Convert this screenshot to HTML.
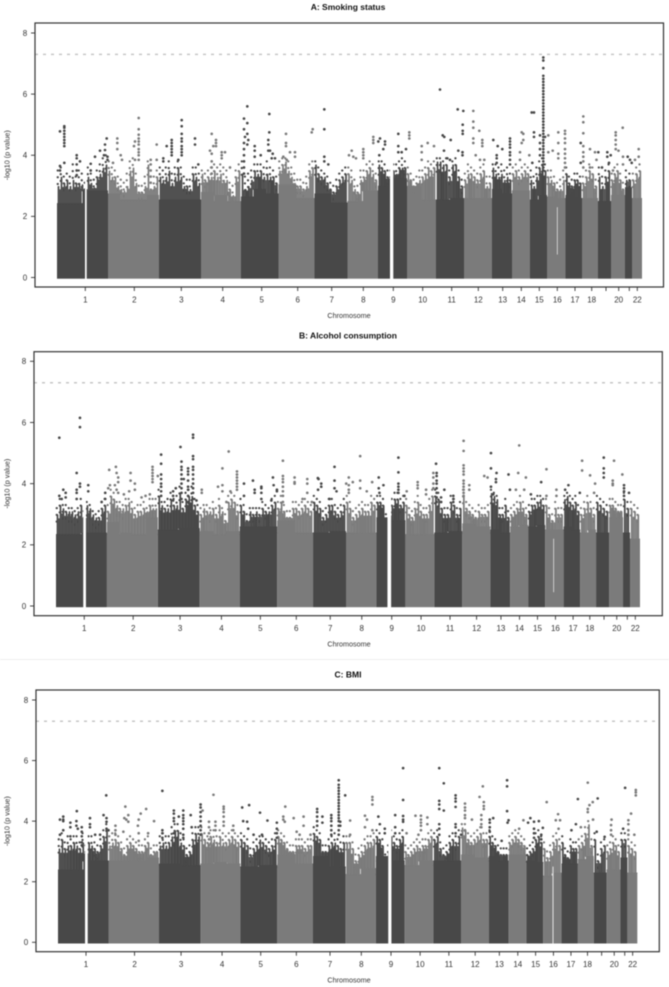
<!DOCTYPE html>
<html lang="en">
<head>
<meta charset="utf-8">
<title>Manhattan plots: smoking status, alcohol consumption, BMI</title>
<style>
html,body{margin:0;padding:0;background:#fff;}
body{width:669px;height:987px;overflow:hidden;}
svg{display:block;filter:blur(0.4px);}
text{font-family:"Liberation Sans",sans-serif;fill:#333;}
.title{font-weight:bold;font-size:8.5px;fill:#111;}
.tick{font-size:8px;}
.axis{font-size:7.2px;}
</style>
</head>
<body>
<svg id="chart" xmlns="http://www.w3.org/2000/svg" width="669" height="987" viewBox="0 0 669 987"></svg>
<script>
// Shared axis data. Genome position is in bins of roughly 4.9 Mb.
const chromosomeEnds = [51,102,144,184,221.5,257.5,290.5,321,350,379,407,435,455,473,490,508.5,525,541,554,568,575,585];
const tickPositions = [28.3,77.3,124.3,165.7,204.7,240.7,274.7,306.3,336.3,365.7,394.7,421.3,445.7,464.3,482.3,500.3,518,534.7,549,561.7,572.3,580.3];
const tickLabels = ["1","2","3","4","5","6","7","8","9","10","11","12","13","14","15","16","17","18","","20","","22"];
const yTicks = [0,2,4,6,8];
const genomeWideThreshold = 7.3;

// Panel A: Smoking status
const denseA = [[2.43,2.85],[2.75,2.55,2.55,2.7],[2.55,2.55],[2.8,2.7,2.5],[2.65,2.9,2.75],[3.05,2.6],[2.75,2.45],[2.5,2.85],[3.0,3.25],[3.0,2.55],[2.55,2.6],[2.6,2.6],[2.9,2.75],[2.85,2.85],[2.55,2.7],[2.65,2.6],[2.7,2.6],[2.6,2.6],[2.5],[2.7],[2.95],[2.6]];
const combA = [
[3.0,3.3,3.1,3.2,3.0,3.2,3.1,3.1,3.05,2.9,3.3,3.1,2.95,3.3,3.4,3.6,3.7],
[3.5,3.3,3.3,3.0,2.9,2.85,3.0,3.5,3.6,3.1,2.8,2.8,3.0,3.7,2.9,3.0,3.3],
[3.3,3.2,3.3,3.5,3.1,3.3,3.6,3.3,3.0,3.0,2.9,3.4,3.3,3.1],
[3.4,3.2,3.3,3.3,3.5,3.3,3.4,3.2,3.2,2.9,2.7,3.3,3.5],
[3.4,2.9,3.0,3.2,3.5,3.4,3.5,3.3,3.4,3.3,3.3,3.1],
[3.5,3.7,3.8,3.5,3.3,3.1,3.0,3.0,2.9,3.0,3.5,3.6],
[3.7,3.4,3.3,3.3,3.1,2.9,2.8,3.0,3.2,3.3,3.4],
[3.4,3.2,2.9,2.8,3.2,3.3,3.5,3.6,3.4,3.2],
[3.7,3.6,3.5,3.3,3.3,3.5,3.4,3.6,3.6,3.6],
[3.4,3.2,3.0,3.1,3.2,3.3,3.4,3.6,3.5,3.6],
[3.8,3.8,3.7,3.7,3.3,3.7,3.7,3.3,3.0],
[3.2,3.4,3.4,3.3,3.2,3.4,3.5,3.0,3.1],
[3.6,3.4,3.3,3.4,3.2,3.3,3.2],
[3.4,3.5,3.3,3.4,3.5,3.4],
[3.2,3.0,3.3,3.6,3.7,3.5],
[3.3,3.2,3.1,2.9,2.9,3.2],
[3.4,3.1,3.0,3.2,3.2,3.1],
[3.1,3.3,3.5,3.4,3.0],
[3.3,3.0,3.3,3.5],
[3.2,3.4,3.5,3.2,2.9],
[3.2,3.2],
[3.2,3.4,3.5]];
const scatterA = [
[3.5,3.6,3.3,3.4,3.3,3.7,3.3,3.5,3.4,3.1,3.6,3.4,3.2,3.5,3.7,3.9,4.0],
[3.8,3.6,3.5,3.3,3.2,3.1,3.4,3.8,3.9,3.4,3.0,3.0,3.3,3.8,3.1,3.3,3.5],
[3.6,3.5,3.6,3.8,3.4,3.6,3.8,3.6,3.3,3.2,3.2,3.6,3.6,3.4],
[3.5,3.4,3.5,3.6,3.7,3.6,3.7,3.6,3.5,3.1,3.0,3.5,3.7],
[3.8,3.3,3.4,3.5,3.7,3.7,3.7,3.6,3.8,3.6,3.5,3.3],
[3.8,3.9,3.9,3.8,3.6,3.4,3.2,3.2,3.1,3.3,3.7,3.8],
[3.8,3.6,3.5,3.4,3.3,3.1,3.0,3.2,3.4,3.5,3.6],
[3.6,3.5,3.2,3.0,3.5,3.5,3.7,3.8,3.7,3.4],
[3.8,3.8,3.7,3.5,3.5,3.7,3.7,3.8,3.9,3.8],
[3.6,3.4,3.2,3.3,3.5,3.5,3.6,3.8,3.7,3.8],
[3.9,3.9,3.8,3.9,3.5,3.8,3.9,3.5,3.2],
[3.4,3.7,3.6,3.5,3.4,3.6,3.7,3.3,3.3],
[3.7,3.7,3.6,3.7,3.5,3.6,3.4],
[3.6,3.7,3.5,3.6,3.7,3.6],
[3.5,3.3,3.6,3.8,3.9,3.7],
[3.5,3.5,3.3,3.1,3.2,3.5],
[3.6,3.3,3.2,3.4,3.4,3.3],
[3.3,3.5,3.7,3.6,3.2],
[3.6,3.3,3.5,3.7],
[3.4,3.6,3.7,3.4,3.1],
[3.5,3.4],
[3.4,3.6,3.7]];
const gapsA = [[28,29.7,-0.2,7],[333,336.3,-0.2,7],[500,500.6,0.8,2.3]];
// Each hit column: genome position, then the -log10(p) values at that position.
const hitsA = [
[7.3,4.3,4.4,4.5,4.6,4.7,4.8,4.9,4.95,3.75],[3,4.78,3.65,3.5],[19.7,4.0,3.9,3.7,3.5,3.35],[23,3.8],
[49.7,4.55],[48,4.35,4.17],[43,4.15],[38,3.95],[33.7,3.72,3.5],[50.5,3.95,3.85],[47,4.0],
[60.3,4.55,4.4,4.2],[63.7,4.0],[65,3.85],[56,3.75],[81.7,5.22,4.85,4.67,4.55,4.45,4.35,4.2,4.1,4.0,3.85],[78,4.45,3.85],[77,4.3],
[99.7,4.35,3.85],[93.7,3.85,3.7,3.5,3.3,3.1],
[109.7,4.3],[114.7,4.5,4.4,4.3,4.2,4.1,4.0],[106.3,3.9,3.8],[124.7,5.15,4.95,4.7,4.55,4.45,4.3,4.2,4.1,4.0],[138,4.55,4.35],[121.3,3.85],[141.3,3.7],
[154.7,4.7,4.05,3.8,3.6,3.4],[153,4.15],[156.3,4.3],[159,4.5,4.4,4.3],[164.7,4.1,4.0,3.9],[168,4.1],[173,3.6],
[190.3,5.6,5.05,4.7,4.35],[187,5.2,4.85,4.4,4.2,4.0,3.8,3.6,3.4],[188,4.6],[191.3,4.5],[197.7,4.3,4.15,3.95],[203.7,4.0],[212.3,5.35,4.75],[211.3,4.5,4.35,4.15],[213,4.15],[215.7,4.05],[218,3.9],[214.7,3.9],
[229,4.7,4.4,4.3],[238,4.1,3.95],[233,4.1],[229.7,3.85],[226.3,3.95],[254.7,4.75],[255.7,4.85],
[267.3,5.5,4.85,3.95,3.8],[271.3,3.7],
[294.7,4.15],[292,4.0],[296.3,3.95],[299,3.9],[306.3,4.2,4.1,4.0,3.9],[316.3,4.6,4.5,4.4],[321.3,4.45],[323,4.55],
[328,4.45,4.35],[322.3,4.0],[326.3,4.2],[341.3,4.7,4.3,4.1],[344.7,4.1],[349,4.2],[352.3,4.75,4.65,4.55],
[364.7,4.3,4.1,3.85],[370.7,4.4],[377,4.3],[383,6.15],[385.7,4.65],[387.3,4.6],[393.7,4.5],[387,4.15],[390.3,3.9],[393,3.85],
[400.7,5.5],[406.3,5.45],[405.7,5.0,4.8,4.7],[401.3,4.15],[405.5,4.1,4.0],
[416.3,5.45,5.1,4.9,4.55,4.4],[422.3,4.8],[425.3,4.5,4.4,4.3],[418.7,4.0],[423,3.85],[427.3,3.85],
[436.3,4.5],[440.7,4.3],[445.3,4.2],[439.7,4.0,3.9,3.75],[453,4.55,4.45,4.35,4.25,4.1,4.0,3.85,3.7],
[464.7,4.75,4.4],[466.3,4.7,4.5],[463,4.1,3.85],
[474.7,5.4],[477,5.4,4.75,4.6],[472.3,4.0],[475.3,3.75],[483,4.65,4.4,4.2,4.0],
[486.3,7.2,7.1,6.85,6.6,6.5,6.4,6.3,6.2,6.1,6.0,5.9,5.8,5.7,5.6,5.5,5.4,5.3,5.2,5.1,5.0,4.9,4.8,4.7,4.6,4.5,4.4,4.3,4.2,4.1,4.0,3.9,3.8,3.7,3.6,3.5],
[488,4.6],[491.3,4.65,4.1],[495.7,4.15],[501.3,4.75,4.4,4.05,3.9],
[508,4.8,4.7,4.55,4.4,4.2,4.05,3.9,3.75,3.6],[523.7,4.4,3.75],[526.3,5.27,5.08,4.72,4.3,4.1,3.95,3.8,3.6],
[533,4.2,3.6],[538,4.1],[541.3,4.1],[539.5,3.85],[550.3,4.1,3.95],[553.7,4.0],[552,3.75],[556,3.5],[545,3.6],
[558.7,4.75,4.65,4.5,4.35,4.2],[561.5,4.15],[565.7,4.9],[566,3.95,3.7],[570.7,3.95],[573,3.85],[574.7,3.75],[581.7,4.2,3.95],[578,3.85]
];

// Panel B: Alcohol consumption
const denseB = [[2.35,2.4],[2.75,2.4,2.35,2.9],[2.5,2.55],[2.45,2.35,2.45],[2.6,2.6,2.6],[2.8,2.4],[2.4,2.45],[2.4,2.4],[2.9,2.8],[2.35,2.35],[2.4,2.45],[2.7,2.6],[2.5,2.4],[2.6,2.65],[2.6,2.65],[2.5,2.5],[2.6,2.5],[2.4,2.5],[2.4],[2.9],[2.4],[2.2]];
const combB = [
[3.0,3.3,3.2,3.1,3.1,3.1,3.0,3.1,3.3,3.0,3.3,3.2,3.0,2.9,2.9,3.2,3.3],
[3.1,3.6,3.5,3.3,3.2,3.2,3.3,3.4,3.2,3.0,3.1,3.1,3.2,3.1,3.3,3.2,3.2],
[3.6,3.3,3.2,3.2,3.5,3.3,3.3,3.7,3.2,3.5,3.6,3.6,3.3,3.1],
[3.0,3.2,3.1,3.1,3.2,3.0,3.3,3.1,2.8,3.4,3.5,3.4,3.1],
[3.3,3.1,2.8,3.1,3.0,3.1,3.0,3.2,3.1,3.1,3.3,3.4],
[3.2,3.4,3.1,2.9,2.9,3.2,3.2,3.1,3.2,3.3,3.2,3.1],
[3.4,3.3,3.2,2.9,3.0,3.3,3.3,3.1,3.0,3.1,3.3],
[3.4,3.2,2.9,3.0,3.1,3.2,3.1,3.1,3.4,3.3],
[3.4,3.4,3.3,2.8,3.0,3.3,3.5,3.5,3.3,3.4],
[3.3,3.0,2.9,3.2,3.4,3.1,3.0,3.0,3.3,3.6],
[3.6,3.5,3.2,3.0,3.0,3.4,3.3,3.0,3.2],
[3.6,3.2,3.1,3.0,2.9,3.1,3.0,3.0,3.1],
[3.7,3.6,3.5,3.0,3.0,3.3,2.9],
[3.0,3.1,3.2,3.4,3.2,3.0],
[3.1,3.3,3.3,3.4,3.5,3.3],
[3.3,3.0,2.8,3.2,3.0,3.0],
[3.5,3.6,3.4,3.3,3.4,3.1],
[3.0,3.2,3.4,3.2,3.0],
[3.4,3.3,3.2,3.1],
[3.3,3.3,3.2,3.1,3.1],
[3.5,3.2],
[3.2,3.1,3.0]];
const scatterB = [
[3.2,3.5,3.3,3.3,3.2,3.2,3.1,3.2,3.5,3.1,3.4,3.3,3.1,3.0,3.1,3.4,3.5],
[3.3,3.8,3.7,3.4,3.4,3.3,3.5,3.5,3.4,3.2,3.3,3.3,3.4,3.2,3.5,3.5,3.5],
[3.8,3.4,3.4,3.5,3.7,3.5,3.6,3.9,3.4,3.7,3.8,3.9,3.5,3.3],
[3.2,3.3,3.3,3.2,3.4,3.2,3.5,3.2,3.0,3.6,3.7,3.6,3.3],
[3.5,3.3,3.0,3.2,3.2,3.2,3.2,3.4,3.3,3.2,3.5,3.6],
[3.4,3.6,3.3,3.1,3.1,3.4,3.4,3.3,3.4,3.5,3.4,3.3],
[3.6,3.5,3.4,3.1,3.2,3.5,3.5,3.3,3.2,3.3,3.5],
[3.6,3.4,3.1,3.2,3.3,3.4,3.3,3.3,3.6,3.5],
[3.6,3.6,3.5,3.0,3.2,3.5,3.7,3.7,3.5,3.6],
[3.5,3.2,3.1,3.4,3.6,3.3,3.2,3.2,3.5,3.8],
[3.8,3.7,3.4,3.2,3.2,3.6,3.5,3.2,3.4],
[3.8,3.4,3.3,3.2,3.1,3.3,3.2,3.2,3.3],
[3.8,3.7,3.6,3.2,3.2,3.5,3.1],
[3.2,3.3,3.4,3.6,3.4,3.2],
[3.3,3.5,3.5,3.6,3.6,3.5],
[3.5,3.2,3.0,3.4,3.2,3.2],
[3.6,3.7,3.6,3.5,3.6,3.3],
[3.2,3.4,3.6,3.4,3.2],
[3.6,3.5,3.4,3.3],
[3.5,3.5,3.4,3.3,3.3],
[3.7,3.4],
[3.4,3.3,3.2]];
const gapsB = [[27.3,30,-0.2,7],[332,335.7,-0.2,7],[498.2,498.8,0.5,2.2]];
const hitsB = [
[3.3,5.5,3.6],[24,6.15,5.85,4.0,3.9],[20.7,4.35,3.8,3.7,3.5],[7.3,3.8],[9.7,3.7,3.55],[5.7,3.5],
[32.3,3.95,3.75],[49.3,3.7,3.5],[45.7,3.4],
[53.3,4.45],[60,4.55],[60.7,4.35,3.8],[62.3,4.2,4.05,3.7],[54,3.95],[59,3.95],[52.3,3.85],[74.7,4.35,4.1],[79,4.0,3.8],[73.3,3.75],[68,3.65],[85.7,3.55],[89.7,3.6],
[96.7,4.55,4.45,4.35,4.25,4.15,4.05],[94,3.65],[102,4.25],
[105.3,4.95,4.65,4.3,4.15,4.0,3.9,3.75,3.6],[120,3.85],[117.3,3.75,3.6,3.45],[124.7,5.2],[125.7,4.72,4.55,4.45,4.3,4.15,4.0,3.85,3.7,3.5],[128,4.15],
[132.3,4.5,4.4,4.3,4.1,3.9,3.8,3.6,3.4],[137.3,5.6,5.5,4.9,4.8,4.55,4.45,4.3,4.15,4.0,3.85,3.7,3.5],[140.7,3.45],
[146,3.8,3.7],[166.7,4.5,3.95,3.75],[173,5.05],[162.3,3.9],[174.7,3.75],[181.3,4.4,4.3,4.2,4.1,4.0,3.9,3.8],[170.7,3.4],
[188.3,4.0,3.6],[197.3,4.1],[199,3.8,3.7],[205.7,3.9,3.85,3.7,3.5],[217.3,4.2],[218,3.95],[221.3,3.8,3.75],[215.7,3.45],
[227.3,4.75,4.25,4.15,4.05,3.9,3.75,3.6,3.4],[239,4.2,4.05,4.0],[251.7,4.15,4.0,3.7],[247,3.5],[256.3,3.4],
[262.3,4.18],[263,4.15],[265.7,4.0,3.9],[262.5,3.8],[279,4.55,4.1,3.85],[274,3.5],[281,3.75],
[290.7,4.0],[293.3,4.2,3.95,3.8,3.7],[297.3,4.05],[304.7,4.9,4.1,3.85],[311.3,3.75],[316.7,4.05],[323.3,4.2,3.85],[328,3.95],[324,3.7],
[343,4.85,4.37,4.0,3.9,3.8,3.7],[349,3.6],[351.3,3.75],[362.3,4.05,3.95,3.85],[370.7,3.8,3.65],
[378,4.35,4.2,4.0,3.85],[380.7,4.65],[381.3,4.35,4.25,4.1,4.0,3.85,3.7,3.55,3.4],[389,3.8],[385.7,3.55,3.4],[398,3.6,3.5,3.4],
[408.3,5.4,5.07,4.6,4.5,4.4,4.3,4.1,4.0,3.9,3.8,3.7,3.6],[414,3.95,3.8],[429,4.25],[432.3,4.2],[435.7,5.0,4.5,3.9],[441.3,4.35],[440.7,4.15,4.05],[438,3.65],
[453.3,4.3],[454.7,3.8],[460.7,3.8],[464,5.25],[463,4.35],[470.7,4.2],[469,3.8],[475.7,3.65],[486,4.05],[491.3,4.47,3.6],
[501.3,3.8,3.6],[510,3.8],[513.3,3.95],[524.7,3.7],[527,4.75,4.43],[535,4.27],[540,4.0],[539,3.7],[548.7,4.85,4.5,4.35,4.2],[559,4.75],[557.7,4.1,4.0,3.95],[567.3,4.3],[569,3.95,3.85,3.75,3.6],[574,3.7]
];

// Panel C: BMI
const denseC = [[2.4,2.7],[2.7,2.7,2.7,2.8],[2.6,2.55],[2.6,2.65,2.6],[2.5,2.55],[2.9,2.6],[2.85,2.5],[2.25,2.45],[2.85,2.7],[2.55,2.7],[2.7,2.7],[2.9,2.8],[2.85,2.7],[2.9,2.9],[2.7,2.65],[2.2,2.3],[2.6,2.6],[2.75,2.85],[2.3],[2.4],[2.8],[2.3]];
const combC = [
[3.1,3.4,3.1,3.2,3.2,3.3,3.2,3.1,3.3,3.0,3.3,3.2,3.1,3.0,3.2,3.5,3.7],
[3.2,3.3,3.4,3.3,3.1,2.9,3.2,3.3,3.2,3.1,3.0,3.0,3.2,3.3,2.9,3.0,3.0],
[3.2,3.3,3.2,3.3,3.5,3.7,3.7,3.3,3.2,2.9,3.0,3.4,3.6,3.5],
[3.6,3.4,3.3,3.5,3.4,3.3,3.5,3.3,3.3,3.4,3.5,3.4,3.3],
[3.4,3.3,3.2,2.9,3.1,3.2,3.4,3.3,3.2,3.1,3.2,3.4],
[3.5,3.4,3.3,3.1,3.0,3.0,3.2,3.2,3.2,3.1,3.2,3.2],
[3.6,3.5,3.4,3.0,3.0,3.2,3.3,3.3,3.2,3.1,3.3],
[3.3,3.3,3.1,2.7,2.9,3.0,3.2,3.3,3.3,3.4],
[3.5,3.4,3.2,2.7,3.0,3.5,3.3,3.2,3.4,3.5],
[3.0,2.9,3.0,3.1,3.2,3.1,3.2,3.2,3.4,3.5],
[3.4,3.5,3.1,2.9,3.0,3.3,3.4,3.3,3.5],
[3.8,3.7,3.4,3.3,3.4,3.5,3.6,3.4,3.4],
[3.5,3.3,3.2,3.0,2.9,2.9,2.9],
[3.3,3.4,3.5,3.4,3.3,3.2],
[2.9,3.0,3.1,3.4,3.5,3.3],
[3.1,2.8,3.0,3.3,3.4,3.2],
[3.3,2.9,2.8,3.2,3.1,3.1],
[3.2,3.3,3.6,3.9,3.2],
[3.4,2.7,3.1,3.2],
[3.0,3.1,3.3,3.2,3.0],
[3.4,3.4],
[3.2,3.1,3.0]];
const scatterC = [
[3.4,3.6,3.3,3.5,3.4,3.5,3.5,3.3,3.6,3.2,3.5,3.5,3.3,3.2,3.4,3.7,3.9],
[3.5,3.6,3.6,3.5,3.3,3.1,3.4,3.5,3.4,3.3,3.2,3.2,3.4,3.5,3.1,3.2,3.2],
[3.5,3.6,3.5,3.5,3.8,3.9,3.9,3.6,3.4,3.1,3.2,3.6,3.8,3.8],
[3.8,3.6,3.5,3.7,3.7,3.5,3.7,3.6,3.5,3.6,3.7,3.6,3.5],
[3.6,3.5,3.4,3.1,3.3,3.4,3.5,3.5,3.4,3.3,3.4,3.6],
[3.7,3.6,3.5,3.3,3.2,3.2,3.4,3.4,3.4,3.3,3.4,3.4],
[3.8,3.7,3.6,3.2,3.2,3.4,3.5,3.6,3.4,3.3,3.5],
[3.5,3.5,3.3,2.9,3.1,3.2,3.4,3.5,3.5,3.6],
[3.7,3.6,3.4,2.9,3.2,3.7,3.5,3.4,3.6,3.7],
[3.2,3.1,3.2,3.3,3.4,3.3,3.4,3.4,3.6,3.7],
[3.6,3.7,3.3,3.1,3.2,3.5,3.6,3.5,3.7],
[3.9,3.9,3.6,3.5,3.6,3.7,3.8,3.6,3.6],
[3.7,3.5,3.4,3.2,3.1,3.1,3.1],
[3.5,3.6,3.7,3.6,3.5,3.4],
[3.1,3.2,3.3,3.6,3.7,3.5],
[3.3,3.0,3.2,3.5,3.6,3.4],
[3.5,3.1,3.0,3.4,3.3,3.3],
[3.4,3.5,3.8,4.0,3.4],
[3.6,2.9,3.3,3.4],
[3.2,3.3,3.5,3.4,3.2],
[3.6,3.6],
[3.4,3.3,3.2]];
const gapsC = [[27.3,30,-0.2,7],[333.5,336.7,-0.2,7],[499.5,500.3,0,2.5]];
const hitsC = [
[19,4.33],[5.3,4.15,4.05,4.0,3.7],[2,4.05,3.55],[12.5,3.95,3.8,3.5],[18.6,4.0,3.85],[20,3.75],[24,3.8,3.65,3.5,3.3,3.2],
[32.3,4.1,3.9,3.8],[48.7,4.85],[46,4.2],[49,4.1,3.98,3.75],[51,3.7],[37.5,3.55],[42.5,3.55],
[68,4.48],[67,4.1],[69,4.05],[71,4.2,3.98],[58,3.85,3.7,3.55],[66,3.65],[83.5,4.25],[80.7,3.85],[81.5,4.05,3.6,3.35],[89,4.4],[97,4.0],[91,3.6],
[105.4,5.0,3.7,3.6,3.45],[117,4.35,4.25,4.1,4.0,3.6,3.2],[122,4.15],[126.5,4.35,4.2,4.1,4.0,3.9,3.75,3.55,3.45],[134,4.2],[135,3.8],
[144,4.55,4.45,4.3,4.15,4.0,3.85,3.7,3.55],[146,4.35],[157,4.87],[152.5,3.98,3.8,3.6,3.4,3.2],[159,3.98,3.85,3.7],[167.3,4.48,4.4,4.3,4.15,3.98,3.85],[177,3.85,3.7],
[186,4.45],[193,4.53],[204,4.28],[211.5,4.02],[187,4.0],[191,3.98],[192,3.75],[197.5,3.55],[221,3.95,3.75,3.6,3.45],[206,3.55],
[229.5,4.48],[227.5,4.15,4.05],[229,3.98],[238,4.1],[248,4.15,3.85],[241,3.65],[244,3.55],[255,3.55],
[261.7,4.4,4.3,4.15,4.0,3.85],[267,4.15,3.95],[276,4.2,4.1,4.0,3.85,3.7,3.55],
[283.5,5.35,5.2,5.1,5.0,4.9,4.8,4.7,4.6,4.5,4.4,4.3,4.2,4.1,4.0,3.85,3.7,3.55],[290,4.85],[285,3.98,3.85],
[295,4.02,3.55],[310,4.18,3.8],[312,4.05],[317.5,4.8,4.7,4.55,3.7],[323.5,4.15],[325,3.9],[330,3.75,3.6],
[340.5,4.2,3.8,3.6],[348.5,5.75,4.7,4.17,4.05,3.98],[352,3.6],[361,4.18],[366.5,4.18,4.05,3.95,3.85,3.7],[373,4.12,3.9],[364,3.55],
[385,5.75,4.67,4.55,4.4,3.9,3.75,3.55],[389.6,5.25,4.35],[401.5,4.85,4.75,4.65,4.47,3.9,3.8,3.6],[407,3.55],
[411,4.58,4.45,4.35,4.2,4.1,3.7],[429,5.15],[425.7,4.8],[430,4.63,4.5,4.4],[427.5,4.2,4.05,3.9,3.8],[418,4.05],
[439.5,4.1],[436,4.05,3.95,3.8,3.65],[448,3.35],[453.5,5.35,5.15,4.33],[455,4.03],[454,3.95],
[470,4.03],[465.7,3.75],[477,4.1],[474.7,3.95],[480.7,3.98,3.75,3.6,3.45],[485.6,4.0],[489.6,3.78],[488,3.55,3.4],[493.5,4.63],
[505,4.23],[502.7,4.03],[507,4.03],[505.5,3.75],[525,4.73],[523,3.9],[518.5,3.7],[528,3.8],
[535,5.27,4.4,4.3],[536.7,4.53],[540.3,4.05],[540,4.63],[545,4.75],[544,3.65],[552,3.48],[559,4.05],[558.5,3.87,3.7,3.55],
[572.7,5.1],[570.7,3.75],[578.7,4.25],[576,4.03,3.9,3.7,3.55],[583.5,5.03,4.95,4.85],[582,3.55]
];

const DARK = "#484848";
const GREY = "#7b7b7b";
const NS = "http://www.w3.org/2000/svg";
const svg = document.getElementById("chart");

function make(parent, tag, attrs, text) {
  const el = document.createElementNS(NS, tag);
  for (const k in attrs) el.setAttribute(k, attrs[k]);
  if (text !== undefined) el.textContent = text;
  parent.appendChild(el);
  return el;
}

function chromosomeColor(pos) {
  for (let i = 0; i < chromosomeEnds.length; i++) {
    if (pos <= chromosomeEnds[i]) return i % 2 === 0 ? DARK : GREY;
  }
  return GREY;
}

function drawPanel(key, title, titleY, box, yTop, yZero, xStart, xEnd, dense, comb, scatter, gaps, hits) {
  const xAxis = function (u) { return xStart + u * (xEnd - xStart) / 585; };
  const yAxis = function (v) { return yZero + (yTop - yZero) * v / 8; };
  const span = function (a, b) { return xAxis(b) - xAxis(a); };

  const panel = make(svg, "g", {});
  
  

  const titleEl = make(panel, "text", {x: 348, y: titleY, "text-anchor": "middle", class: "title"}, title);
  
  

  const marks = make(panel, "g", {});
  
  

  // Dense block, comb and scatter of points above it, one chromosome at a time.
  chromosomeEnds.forEach(function (end, c) {
    const start = c === 0 ? 0 : chromosomeEnds[c - 1];
    const color = c % 2 === 0 ? DARK : GREY;
    const group = make(marks, "g", {fill: color});
    
    
    const w = end - start;
    const levels = dense[c];
    const teeth = comb[c];
    const dots = scatter[c];
    const levelAt = function (u) {
      const i = Math.min(levels.length - 1, Math.floor((u - start) / w * levels.length));
      return levels[i];
    };
    const floorLevel = Math.min.apply(null, levels);
    const base = make(group, "rect", {x: xAxis(start), width: span(start, end), y: yAxis(floorLevel), height: yAxis(0) + 1.2 - yAxis(floorLevel)});
    
    
    levels.forEach(function (lv, i) {
      const a = start + w * i / levels.length;
      const b = start + w * (i + 1) / levels.length;
      const block = make(group, "rect", {x: xAxis(a), width: span(a, b), y: yAxis(lv), height: yAxis(floorLevel) + 1 - yAxis(lv)});
      
      
    });
    const step = w / teeth.length;
    teeth.forEach(function (v, i) {
      const u = start + step * (i + 0.5);
      const tooth = make(group, "rect", {x: xAxis(u) - 0.85, width: 1.7, y: yAxis(v), height: yAxis(levelAt(u)) - yAxis(v) + 1, rx: 0.8});
      
      
      if (i < teeth.length - 1) {
        const lvl = levelAt(u + step / 2);
        const midV = lvl + 0.8 * (Math.min(v, teeth[i + 1]) - lvl);
        const mid = make(group, "rect", {x: xAxis(u + step / 2) - 0.75, width: 1.5, y: yAxis(midV), height: yAxis(lvl) - yAxis(midV) + 1, rx: 0.7});
        
        
      }
    });
    const dotStep = w / dots.length;
    dots.forEach(function (v, i) {
      const u = start + dotStep * (i + 0.25);
      [v, v - 0.22, v - 0.44].forEach(function (val) {
        const dot = make(group, "circle", {cx: xAxis(u), cy: yAxis(val), r: 1.15});
        
        
      });
    });
  });

  gaps.forEach(function (g) {
    const gap = make(marks, "rect", {x: xAxis(g[0]), width: span(g[0], g[1]), y: yAxis(g[3]), height: yAxis(g[2]) + 1.5 - yAxis(g[3]), fill: "#fff"});
    
    
  });

  hits.forEach(function (h) {
    const color = chromosomeColor(h[0]);
    h.slice(1).forEach(function (v) {
      const dot = make(marks, "circle", {cx: xAxis(h[0]), cy: yAxis(v), r: 1.35, fill: color});
      
      
    });
  });

  const line = make(panel, "line", {x1: box[0], x2: box[2], y1: yAxis(genomeWideThreshold), y2: yAxis(genomeWideThreshold), stroke: "#c6c6c6", "stroke-width": 1.5, "stroke-dasharray": "3 5"});
  
  

  const frame = make(panel, "rect", {x: box[0], y: box[1], width: box[2] - box[0], height: box[3] - box[1], fill: "none", stroke: "#333", "stroke-width": 1.2});
  
  

  const xAxisGroup = make(panel, "g", {});
  
  
  tickPositions.forEach(function (p, i) {
    const tick = make(xAxisGroup, "line", {x1: xAxis(p), x2: xAxis(p), y1: box[3], y2: box[3] + 4, stroke: "#333", "stroke-width": 0.9});
    
    
    if (tickLabels[i] !== "") {
      const lab = make(xAxisGroup, "text", {x: xAxis(p), y: box[3] + 15.5, "text-anchor": "middle", class: "tick"}, tickLabels[i]);
      
      
    }
  });
  const xTitle = make(xAxisGroup, "text", {x: 349, y: box[3] + 31, "text-anchor": "middle", class: "axis"}, "Chromosome");
  
  

  const yAxisGroup = make(panel, "g", {});
  
  
  yTicks.forEach(function (v) {
    const tick = make(yAxisGroup, "line", {x1: box[0] - 4, x2: box[0], y1: yAxis(v), y2: yAxis(v), stroke: "#333", "stroke-width": 0.9});
    
    
    const lab = make(yAxisGroup, "text", {x: box[0] - 10, y: yAxis(v) + 2.8, "text-anchor": "middle", class: "tick"}, String(v));
    
    
  });
  const cy = (yAxis(0) + yAxis(8)) / 2;
  const yTitle = make(yAxisGroup, "text", {x: 0, y: 0, "text-anchor": "middle", class: "axis", transform: "translate(9.5," + cy + ") rotate(-90)"}, "-log10 (p value)");
  
  
}

drawPanel("smoking-status", "A: Smoking status", 10, [35, 23, 663.5, 287], 33, 277.5, 57, 642, denseA, combA, scatterA, gapsA, hitsA);
drawPanel("alcohol-consumption", "B: Alcohol consumption", 338.5, [34, 351.7, 662.3, 615.7], 361.3, 606, 56, 640, denseB, combB, scatterB, gapsB, hitsB);
drawPanel("bmi", "C: BMI", 677.5, [36, 690, 659.3, 951.7], 700, 942.3, 58, 637.3, denseC, combC, scatterC, gapsC, hitsC);

const separator = make(svg, "line", {x1: 0, x2: 669, y1: 659.5, y2: 659.5, stroke: "#eee", "stroke-width": 1});


</script>
</body>
</html>
